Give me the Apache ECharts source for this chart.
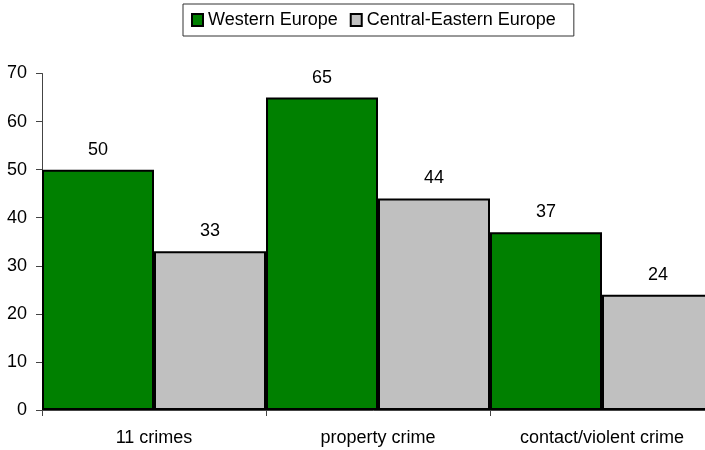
<!DOCTYPE html>
<html>
<head>
<meta charset="utf-8">
<script src="https://cdn.jsdelivr.net/npm/echarts@6/dist/echarts.min.js"></script>
<style>
  html, body { margin: 0; padding: 0; background: #fff; }
  #chart { width: 705px; height: 450px; }
</style>
</head>
<body>
<div id="chart"></div>
<script>
// Crime victimisation by region (%)
const categories = ['11 crimes', 'property crime', 'contact/violent crime'];
const westernEurope = [50, 65, 37];
const centralEasternEurope = [33, 44, 24];
const seriesNames = ['Western Europe', 'Central-Eastern Europe'];
const yTicks = { min: 0, max: 70, interval: 10 };

const font = 'Liberation Sans, Arial, sans-serif';

const chart = echarts.init(document.getElementById('chart'), null, { renderer: 'canvas' });

function barSeries(name, data, color) {
  return {
    name: name,
    type: 'bar',
    data: data,
    barGap: '0%',
    barCategoryGap: '0%',
    itemStyle: { color: color, borderColor: '#000', borderWidth: 2 },
    label: {
      show: true,
      position: 'top',
      distance: 11,
      color: '#000',
      fontFamily: font,
      fontSize: 18
    }
  };
}

chart.setOption({
  animation: false,
  backgroundColor: '#fff',
  legend: {
    data: seriesNames,
    left: 183,
    top: 4,
    borderColor: '#333',
    borderWidth: 1,
    padding: [7, 18, 7, 8],
    itemGap: 12,
    itemWidth: 11,
    itemHeight: 12,
    icon: 'rect',
    textStyle: { fontFamily: font, fontSize: 18, color: '#000' }
  },
  // the last category runs slightly past the right edge of the canvas
  grid: {
    left: 42, top: 73.5, width: 672, height: 336.5,
    containLabel: false,
    outerBoundsMode: 'none'
  },
  xAxis: {
    type: 'category',
    data: categories,
    axisLine: { lineStyle: { color: '#444', width: 1 } },
    axisTick: { show: true, length: 6, lineStyle: { color: '#444' } },
    axisLabel: { color: '#000', fontFamily: font, fontSize: 18, margin: 19 }
  },
  yAxis: {
    type: 'value',
    min: yTicks.min,
    max: yTicks.max,
    interval: yTicks.interval,
    splitLine: { show: false },
    axisLine: { show: true, lineStyle: { color: '#444', width: 1 } },
    axisTick: { show: true, length: 6, lineStyle: { color: '#444' } },
    axisLabel: { color: '#000', fontFamily: font, fontSize: 18, margin: 15 }
  },
  series: [
    barSeries(seriesNames[0], westernEurope, '#008000'),
    barSeries(seriesNames[1], centralEasternEurope, '#C0C0C0')
  ]
});
</script>
</body>
</html>
